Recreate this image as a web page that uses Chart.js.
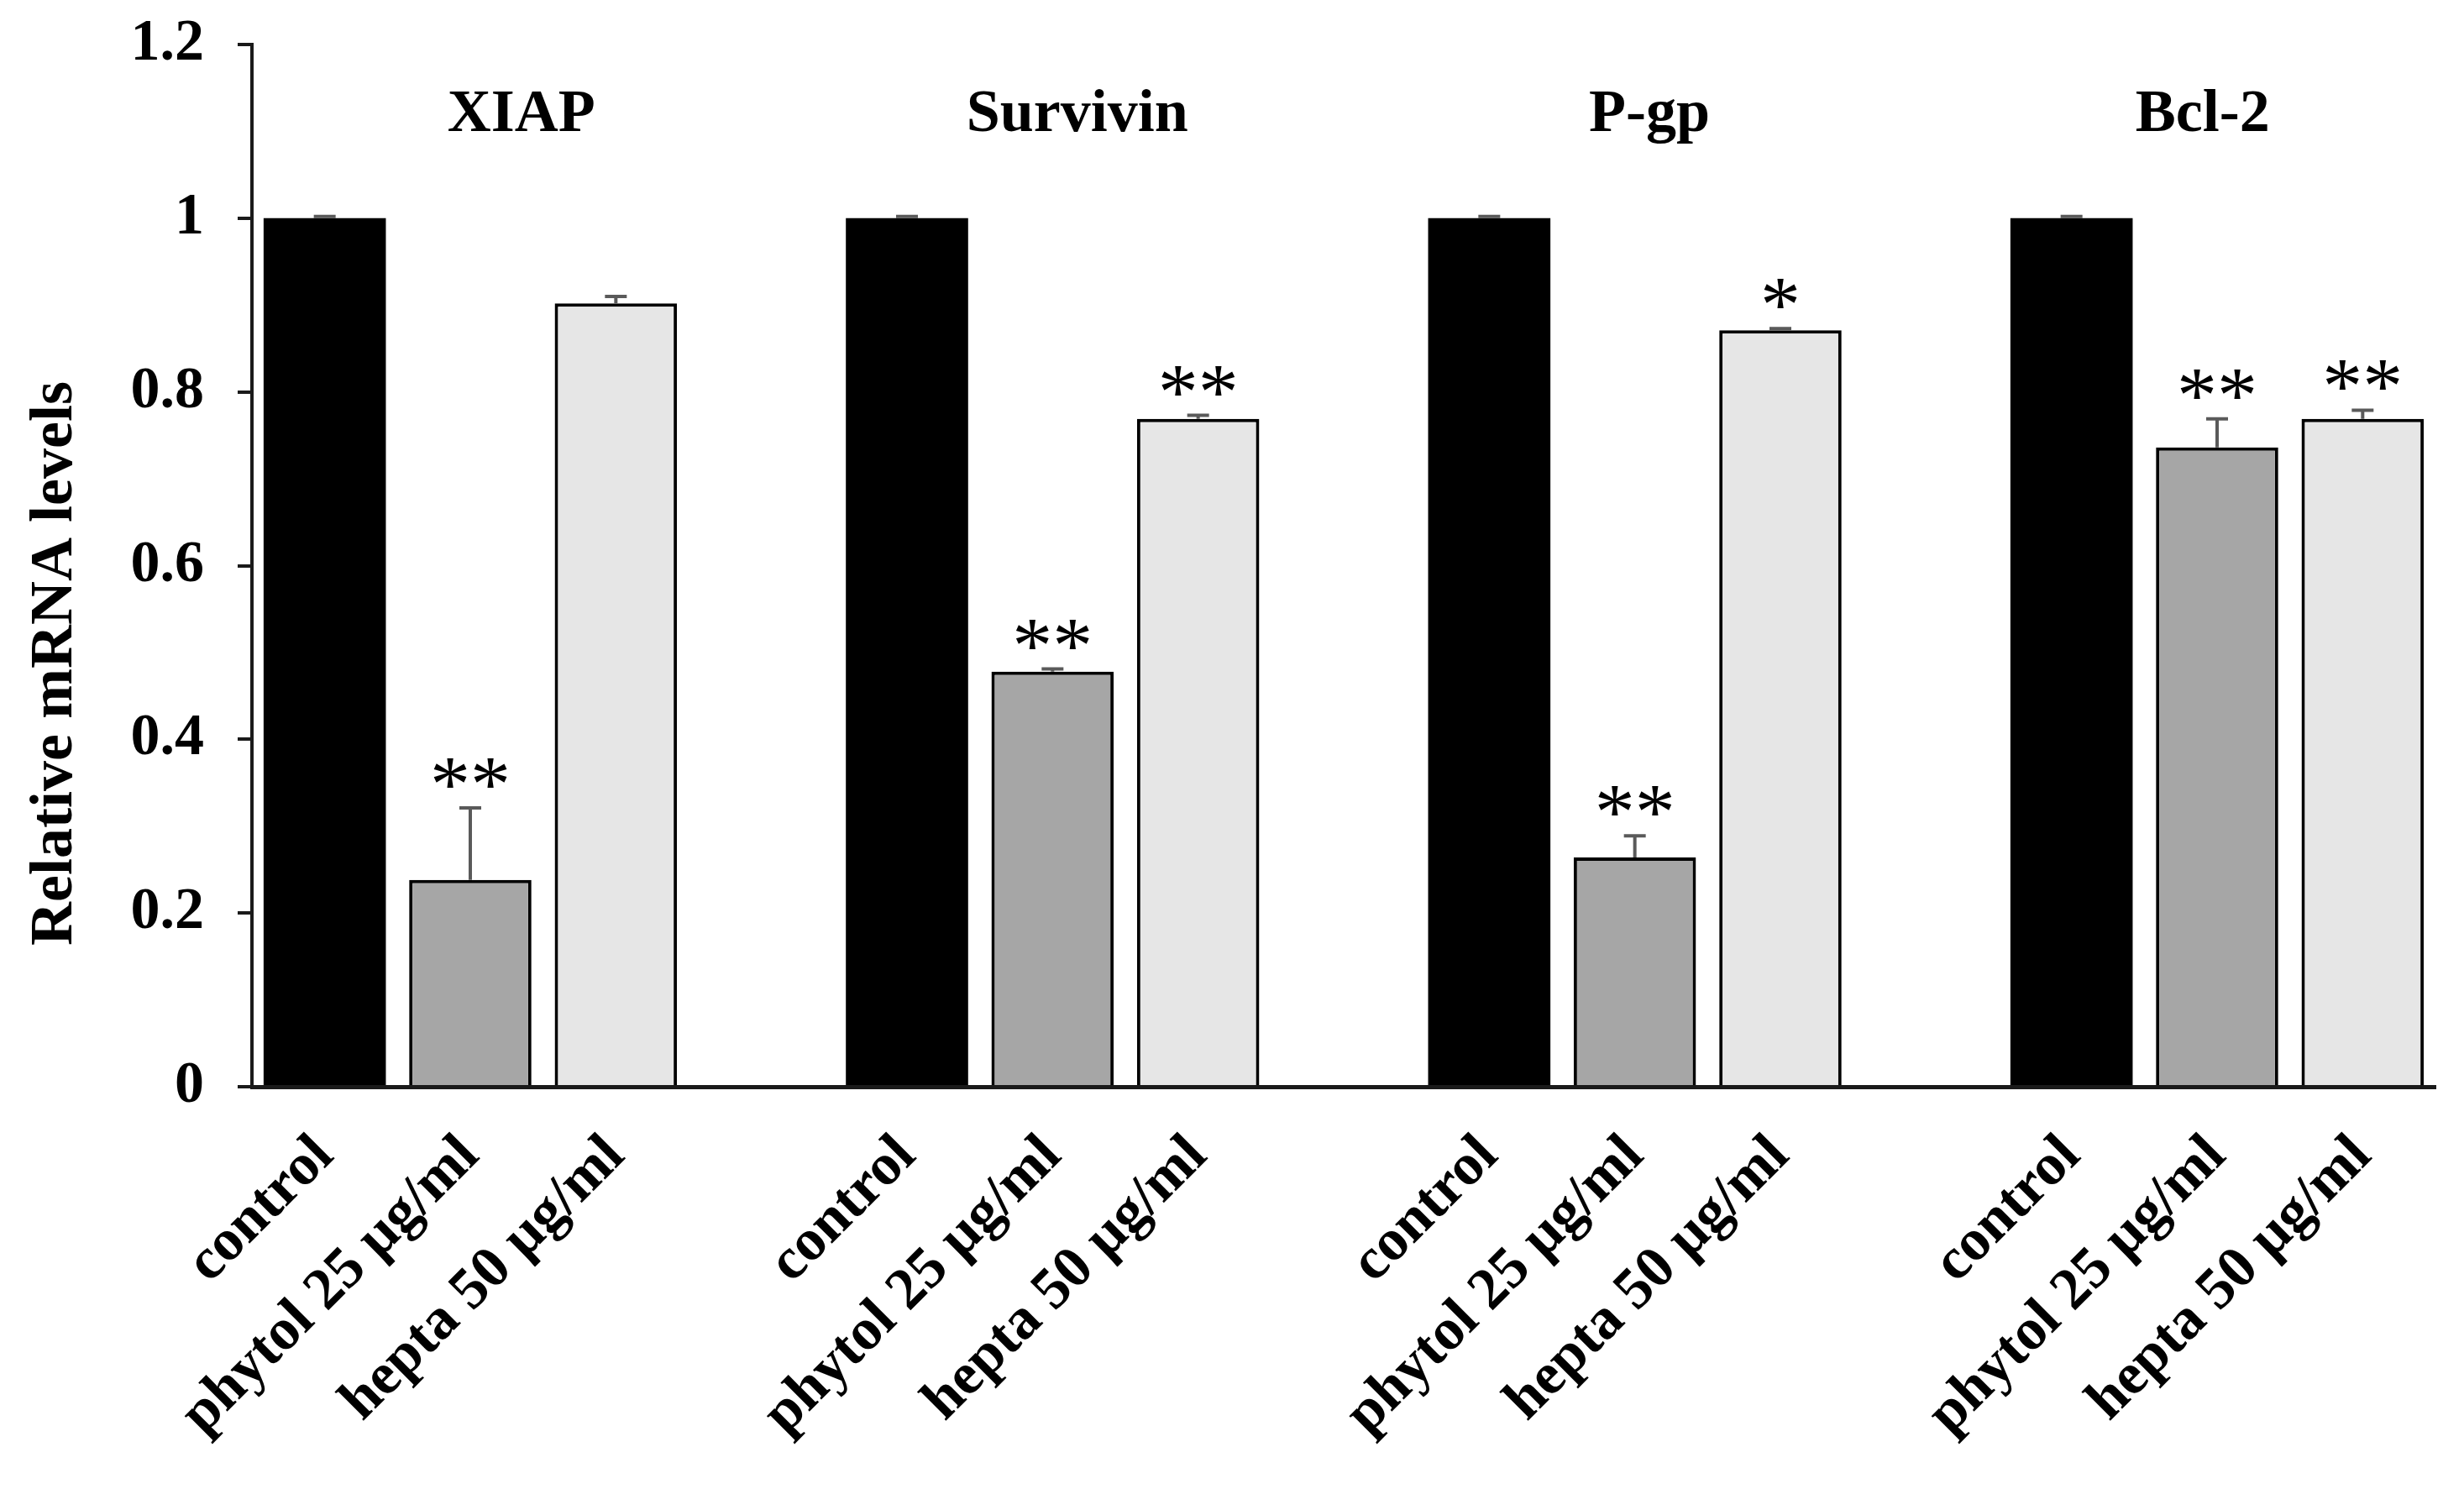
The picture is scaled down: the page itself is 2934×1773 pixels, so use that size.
<!DOCTYPE html>
<html>
<head>
<meta charset="utf-8">
<script src="https://cdn.jsdelivr.net/npm/chart.js@4.4.1/dist/chart.umd.min.js"></script>
<style>
  html, body { margin: 0; padding: 0; background: #fff; }
  #wrap { width: 2934px; height: 1773px; }
</style>
</head>
<body>
<div id="wrap"><canvas id="chart"></canvas></div>
<script>
const genes = ['XIAP', 'Survivin', 'P-gp', 'Bcl-2'];
const treatments = ['control', 'phytol 25 µg/ml', 'hepta 50 µg/ml'];
const controlValues = [1, 1, 1, 1];
const phytolValues = [0.238, 0.478, 0.264, 0.736];
const heptaValues = [0.902, 0.769, 0.871, 0.769];
const controlErrors = [0.002, 0.002, 0.002, 0.002];
const phytolErrors = [0.083, 0.003, 0.025, 0.033];
const heptaErrors = [0.008, 0.004, 0.002, 0.010];
const phytolStars = ['**', '**', '**', '**'];
const heptaStars = ['', '**', '*', '**'];
const yTickLabels = ['0', '0.2', '0.4', '0.6', '0.8', '1', '1.2'];
const yTitle = 'Relative mRNA levels';

const serif = "'Liberation Serif', 'Times New Roman', serif";
const fills = ['#000000', '#a6a6a6', '#e6e6e6'];

// one slot per bar, empty slot between the genes
const labels = [], values = [], errors = [], stars = [], colors = [], borders = [];
genes.forEach((g, i) => {
  if (i > 0) {
    labels.push(''); values.push(null); errors.push(0); stars.push(''); colors.push('#fff'); borders.push(0);
  }
  const v = [controlValues[i], phytolValues[i], heptaValues[i]];
  const e = [controlErrors[i], phytolErrors[i], heptaErrors[i]];
  const s = ['', phytolStars[i], heptaStars[i]];
  for (let k = 0; k < 3; k++) {
    labels.push(treatments[k]);
    values.push(v[k]);
    errors.push(e[k]);
    stars.push(s[k]);
    colors.push(fills[k]);
    borders.push(k === 0 ? 0 : 4);
  }
});

// gene title x positions, in slot units
const titleAt = [1.35, 5.17, 9.1, 12.9];

const overlay = {
  id: 'overlay',
  afterDatasetsDraw(chart) {
    const { ctx, scales: { x, y } } = chart;
    const meta = chart.getDatasetMeta(0);
    ctx.save();
    values.forEach((v, i) => {
      if (v === null) return;
      const bar = meta.data[i];
      const base = y.getPixelForValue(v);
      const top = y.getPixelForValue(v + errors[i]);
      ctx.strokeStyle = '#5a5a5a';
      ctx.lineWidth = 4;
      ctx.beginPath();
      ctx.moveTo(bar.x, base);
      ctx.lineTo(bar.x, top);
      ctx.moveTo(bar.x - 13, top);
      ctx.lineTo(bar.x + 13, top);
      ctx.stroke();
      if (stars[i]) {
        ctx.fillStyle = '#000';
        ctx.font = '96px ' + serif;
        ctx.textAlign = 'center';
        ctx.textBaseline = 'alphabetic';
        ctx.fillText(stars[i], bar.x, top + 4);
      }
    });

    ctx.fillStyle = '#000';
    ctx.font = 'bold 72px ' + serif;
    ctx.textAlign = 'center';
    ctx.textBaseline = 'middle';
    genes.forEach((g, i) => {
      ctx.fillText(g, x.getPixelForValue(titleAt[i]), y.getPixelForValue(1.118));
    });

    ctx.translate(66, 790);
    ctx.rotate(-Math.PI / 2);
    ctx.font = 'bold 72px ' + serif;
    ctx.fillText(yTitle, 0, 0);
    ctx.restore();
  }
};

const ctx = document.getElementById('chart');
const chart = new Chart(ctx, {
  type: 'bar',
  data: {
    labels,
    datasets: [{
      data: values,
      backgroundColor: colors,
      borderColor: '#000',
      borderWidth: borders,
      borderSkipped: 'bottom',
      barPercentage: 0.84,
      categoryPercentage: 1
    }]
  },
  options: {
    responsive: true,
    maintainAspectRatio: false,
    animation: false,
    devicePixelRatio: 1,
    layout: { padding: { top: 53, right: 34, left: 0, bottom: 0 } },
    plugins: {
      legend: { display: false },
      tooltip: { enabled: false }
    },
    scales: {
      x: {
        grid: { display: false },
        border: { display: true, color: '#1a1a1a', width: 5 },
        ticks: {
          color: '#000',
          font: { family: serif, weight: 'bold', size: 70 },
          minRotation: 45,
          maxRotation: 45,
          autoSkip: false,
          padding: 34
        },
        afterFit: s => { s.height = 479; }
      },
      y: {
        min: 0,
        max: 1.2,
        ticks: {
          stepSize: 0.2,
          callback: (v, i) => yTickLabels[i],
          color: '#000',
          font: { family: serif, weight: 'bold', size: 70 },
          padding: 40
        },
        grid: { drawOnChartArea: false, tickLength: 17, color: '#1a1a1a', lineWidth: 4 },
        border: { display: true, color: '#1a1a1a', width: 4 },
        afterFit: s => {
          s.width = 300;
          s.paddingTop = 0;
          s.paddingBottom = 0;
        }
      }
    }
  },
  plugins: [overlay]
});
</script>
</body>
</html>
